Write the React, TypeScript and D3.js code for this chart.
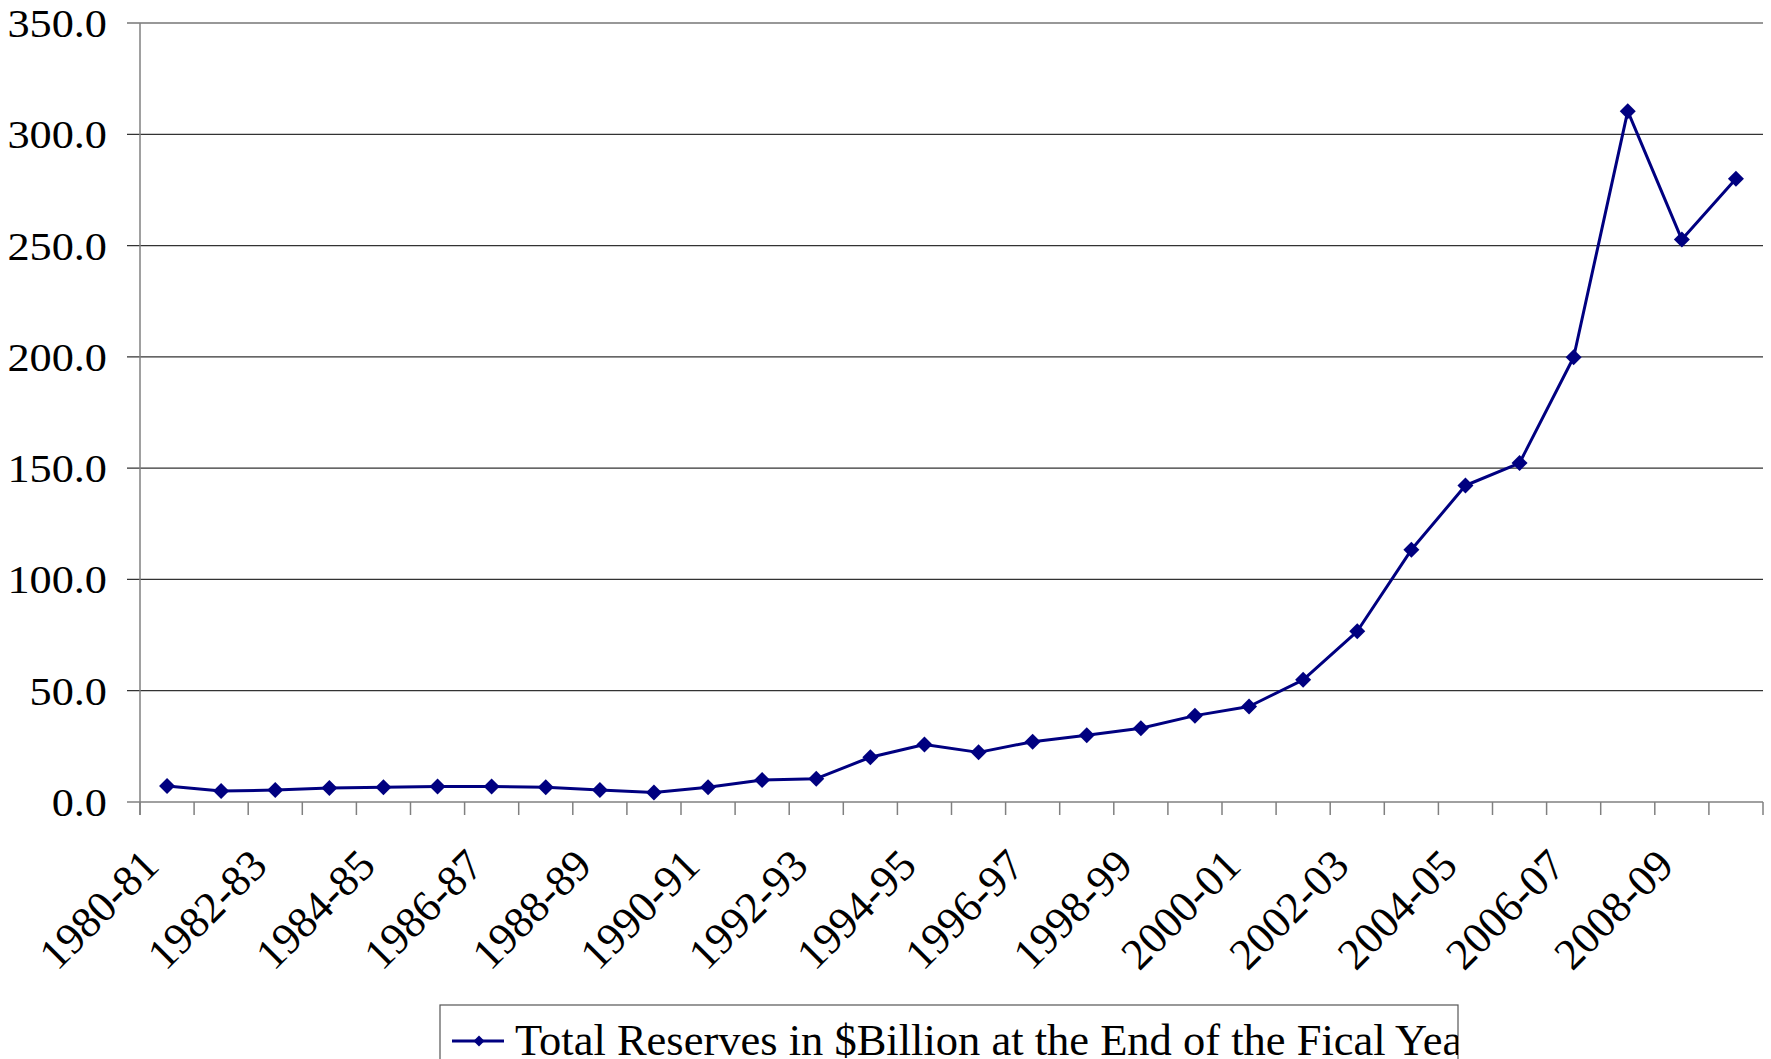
import * as d3 from "d3";
import React from "react";

const categories = [
    "1980-81", "1981-82", "1982-83", "1983-84", "1984-85", "1985-86", "1986-87", "1987-88",
    "1988-89", "1989-90", "1990-91", "1991-92", "1992-93", "1993-94", "1994-95", "1995-96",
    "1996-97", "1997-98", "1998-99", "1999-00", "2000-01", "2001-02", "2002-03", "2003-04",
    "2004-05", "2005-06", "2006-07", "2007-08", "2008-09", "2009-10",
];
const reserves = [
    7.2, 4.9, 5.4, 6.3, 6.6, 7.0, 7.0, 6.6, 5.4, 4.3, 6.6, 9.9, 10.5, 20.1, 25.8, 22.3,
    27.1, 30.0, 33.1, 38.8, 42.9, 54.9, 76.7, 113.3, 142.2, 152.3, 199.8, 310.4, 252.7, 280.0,
];
const tickLabels = [
    "1980-81", "1982-83", "1984-85", "1986-87", "1988-89", "1990-91", "1992-93", "1994-95",
    "1996-97", "1998-99", "2000-01", "2002-03", "2004-05", "2006-07", "2008-09",
];
const yTicks = [0, 50, 100, 150, 200, 250, 300, 350];
const seriesName = "Total Reserves in $Billion at the End of the Fical Year";

const W = 1771;
const H = 1059;
const font = "'Liberation Serif', 'Times New Roman', serif";
const navy = "#000080";

const diamond = (r: number) => `M0,${-r}L${r},0L0,${r}L${-r},0Z`;

const App: React.FC = () => {
    const x = d3.scaleBand().domain(categories).range([140, 1763]).padding(0);
    const y = d3.scaleLinear().domain([0, 350]).range([802, 23]);
    const cx = (c: string) => x(c)! + x.bandwidth() / 2;
    const fmt = d3.format(".1f");

    const line = d3.line<number>()
        .x((_, i) => cx(categories[i]))
        .y(v => y(v));

    const [x0, x1] = x.range();
    const boundaries = categories.map(c => x(c)!).concat([x1]);

    return (
        <svg width={W} height={H} style={{ position: "absolute", left: 0, top: 0, background: "white" }}
            fontFamily={font}>
            <defs>
                <clipPath id="legendClip">
                    <rect x={440} y={1005} width={1018} height={60} />
                </clipPath>
            </defs>

            {/* gridlines + y labels */}
            {yTicks.map(t => (
                <g key={t}>
                    {t > 0 && <line x1={127} x2={x1} y1={y(t)} y2={y(t)} stroke="#333" strokeWidth={1.2} />}
                    <text transform={`translate(107, ${y(t)}) scale(1.08,1)`} dy="0.34em" textAnchor="end"
                        fontSize={41} fill="#000">{fmt(t)}</text>
                </g>
            ))}

            {/* axes */}
            <line x1={127} x2={x1} y1={y(0)} y2={y(0)} stroke="#808080" strokeWidth={1.5} />
            <line x1={x0} x2={x0} y1={y(350)} y2={815} stroke="#808080" strokeWidth={1.5} />
            {boundaries.map((b, i) => (
                <line key={i} x1={b} x2={b} y1={y(0)} y2={815} stroke="#808080" strokeWidth={1.5} />
            ))}

            {/* x labels */}
            {tickLabels.map(l => (
                <text key={l} transform={`translate(${cx(l) - 6}, 868) rotate(-45)`}
                    textAnchor="end" fontSize={44} fill="#000">{l}</text>
            ))}

            {/* series */}
            <path d={line(reserves)!} fill="none" stroke={navy} strokeWidth={3} strokeLinejoin="round" />
            {reserves.map((v, i) => (
                <path key={i} d={diamond(8)} transform={`translate(${cx(categories[i])}, ${y(v)})`} fill={navy} />
            ))}

            {/* legend */}
            <rect x={440} y={1005} width={1018} height={70} fill="white" stroke="#555" strokeWidth={1.2} />
            <line x1={452} x2={504} y1={1041} y2={1041} stroke={navy} strokeWidth={3} />
            <path d={diamond(5.5)} transform="translate(479, 1041)" fill={navy} />
            <text x={515} y={1055} fontSize={44.5} fill="#000" clipPath="url(#legendClip)">{seriesName}</text>
        </svg>
    );
};

export default App;
